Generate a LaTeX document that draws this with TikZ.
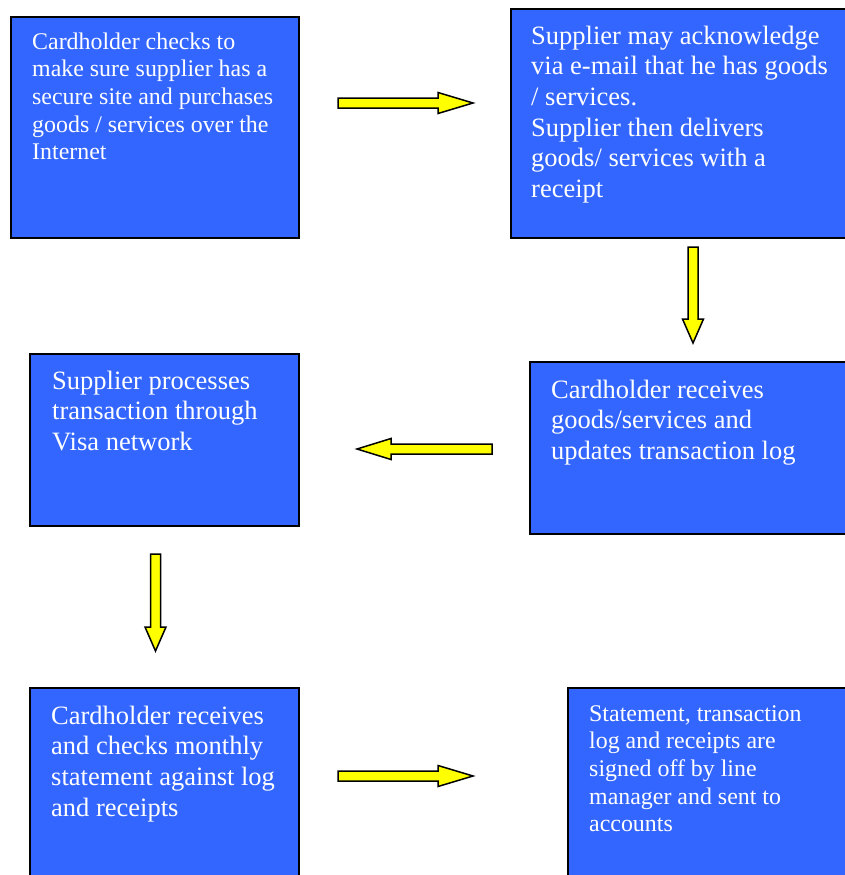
\documentclass[tikz,border=0pt]{standalone}
\usepackage{fontspec}
\setmainfont{Liberation Serif}
\definecolor{boxblue}{HTML}{3366FF}
\definecolor{arrowyellow}{HTML}{FFFF00}
\newcommand\harrow[5]{% name, tail x, tip x, head base x, centre y
  \coordinate (#1-tail) at (#2,#5);
  \coordinate (#1-tip) at (#3,#5);
  \draw[blockarrow] ($(#1-tail)+(0,-5)$) -- (#4,{#5-5}) -- (#4,{#5-10.5}) -- (#1-tip)
    -- (#4,{#5+10.5}) -- (#4,{#5+5}) -- ($(#1-tail)+(0,5)$) -- cycle;}
\newcommand\varrow[5]{% name, tail y, tip y, head base y, centre x
  \coordinate (#1-tail) at (#5,#2);
  \coordinate (#1-tip) at (#5,#3);
  \draw[blockarrow] ($(#1-tail)+(-5,0)$) -- ({#5-5},#4) -- ({#5-10.5},#4) -- (#1-tip)
    -- ({#5+10.5},#4) -- ({#5+5},#4) -- ($(#1-tail)+(5,0)$) -- cycle;}
\usetikzlibrary{calc}
\begin{document}
\begin{tikzpicture}[x=1pt,y=-1pt,
  stepbox/.style={draw=black,line width=1.5pt,fill=boxblue},
  bigtext/.style={anchor=base west,inner sep=0pt,align=left,text=white,
    font=\fontsize{26.5}{30.7}\selectfont},
  smalltext/.style={anchor=base west,inner sep=0pt,align=left,text=white,
    font=\fontsize{23.9}{27.7}\selectfont},
  blockarrow/.style={draw=black,line width=1.5pt,fill=arrowyellow,line join=miter}]
\useasboundingbox (0,0) rectangle (845,875);
\begin{scope}
\clip (0,0) rectangle (845,875);
% boxes
\path[stepbox] (11,17) rectangle (299,238);
\path[stepbox] (511,9) rectangle (860,238);
\path[stepbox] (530,362) rectangle (860,534);
\path[stepbox] (30,354) rectangle (299,526);
\path[stepbox] (30,688) rectangle (299,890);
\path[stepbox] (568,688) rectangle (860,890);
\end{scope}
% texts (anchored at the baseline of their last line)
\node[smalltext] (t1) at (32,159.8) {Cardholder checks to\\make sure supplier has a\\secure site and purchases\\goods / services over the\\Internet};
\node[bigtext] (t2) at (531,197.5) {Supplier may acknowledge\\via e-mail that he has goods\\/ services.\\Supplier then delivers\\goods/ services with a\\receipt};
\node[bigtext] (t3) at (551,459.4) {Cardholder receives\\goods/services and\\updates transaction log};
\node[bigtext] (t4) at (52,450.4) {Supplier processes\\transaction through\\Visa network};
\node[bigtext] (t5) at (51,816.1) {Cardholder receives\\and checks monthly\\statement against log\\and receipts};
\node[smalltext] (t6) at (589,831.8) {Statement, transaction\\log and receipts are\\signed off by line\\manager and sent to\\accounts};
% arrows
\harrow{a1}{338}{473}{438}{103}
\varrow{a2}{247}{343}{319}{693}
\harrow{a3}{492}{357}{391}{449}
\varrow{a4}{554}{651}{627}{155.5}
\harrow{a5}{338}{473}{438}{776}
\end{tikzpicture}
\end{document}
